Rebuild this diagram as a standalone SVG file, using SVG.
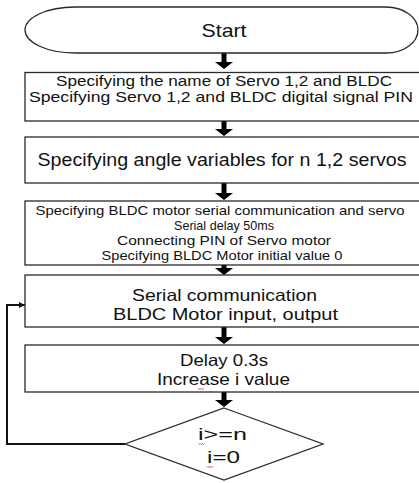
<svg xmlns="http://www.w3.org/2000/svg" width="419" height="483" viewBox="0 0 419 483">
  <style>
    .shape { fill: #ffffff; stroke: #2a2a2a; stroke-width: 1.3; }
    .lbl { font-family: "Liberation Sans", Arial, sans-serif; fill: #111111; text-anchor: middle; }
    .flow { fill: #000000; }
    .loop { fill: none; stroke: #111111; stroke-width: 2; }
    .squig { fill: none; stroke: #e03030; stroke-width: 0.9; }
  </style>
  <defs>
    <marker id="tip" viewBox="0 0 6 6" refX="6" refY="3" markerWidth="6" markerHeight="6" markerUnits="userSpaceOnUse" orient="auto">
      <path d="M0,0 L6,3 L0,6 Z" fill="#111111"/>
    </marker>
  </defs>
  <rect width="419" height="483" fill="#ffffff"/>

  <!-- block arrows between steps -->
  <g id="connectors">
    <path class="flow" d="M221.5,53 H226.5 V62 H233 L224,69 L215,62 H221.5 Z"/>
    <path class="flow" d="M221.5,121 H226.5 V129 H233 L224,136 L215,129 H221.5 Z"/>
    <path class="flow" d="M221.5,183 H226.5 V193 H233 L224,200 L215,193 H221.5 Z"/>
    <path class="flow" d="M221.5,265 H226.5 V268 H233 L224,275 L215,268 H221.5 Z"/>
    <path class="flow" d="M221.5,327 H226.5 V337 H233 L224,344 L215,337 H221.5 Z"/>
    <path class="flow" d="M221.5,392 H226.5 V400 H233 L224,407 L215,400 H221.5 Z"/>
    <!-- loop back from the decision to the serial step -->
    <polyline class="loop" points="125,444 7,444 7,305 25,305" marker-end="url(#tip)"/>
  </g>

  <g id="start">
    <path class="shape" d="M75,7 H386 A32,23 0 0 1 386,53 H75 A50,23 0 0 1 75,7 Z"/>
    <text class="lbl" x="224" y="37" font-size="19" textLength="45" lengthAdjust="spacingAndGlyphs">Start</text>
  </g>

  <g id="names">
    <rect class="shape" x="25" y="72.5" width="398" height="48.5"/>
    <text class="lbl" x="224" y="86" font-size="14" textLength="336" lengthAdjust="spacingAndGlyphs">Specifying the name of Servo 1,2 and BLDC</text>
    <text class="lbl" x="221" y="102" font-size="14" textLength="384" lengthAdjust="spacingAndGlyphs">Specifying Servo 1,2 and BLDC digital signal PIN</text>
  </g>

  <g id="angles">
    <rect class="shape" x="25" y="137" width="398" height="46"/>
    <text class="lbl" x="222" y="166" font-size="17.5" textLength="369" lengthAdjust="spacingAndGlyphs">Specifying angle variables for n 1,2 servos</text>
  </g>

  <g id="setup">
    <rect class="shape" x="25" y="201" width="398" height="64"/>
    <text class="lbl" x="220" y="215" font-size="13" textLength="369" lengthAdjust="spacingAndGlyphs">Specifying BLDC motor serial communication and servo</text>
    <text class="lbl" x="224" y="230" font-size="13" textLength="100" lengthAdjust="spacingAndGlyphs">Serial delay 50ms</text>
    <text class="lbl" x="224" y="245" font-size="13" textLength="214" lengthAdjust="spacingAndGlyphs">Connecting PIN of Servo motor</text>
    <text class="lbl" x="222" y="260" font-size="13" textLength="241" lengthAdjust="spacingAndGlyphs">Specifying BLDC Motor initial value 0</text>
  </g>

  <g id="serial">
    <rect class="shape" x="25" y="275" width="398" height="52"/>
    <text class="lbl" x="224.5" y="301" font-size="16.5" textLength="185" lengthAdjust="spacingAndGlyphs">Serial communication</text>
    <text class="lbl" x="225.5" y="320" font-size="16.5" textLength="225" lengthAdjust="spacingAndGlyphs">BLDC Motor input, output</text>
  </g>

  <g id="delay">
    <rect class="shape" x="25" y="345" width="398" height="47"/>
    <text class="lbl" x="224" y="366" font-size="16.5" textLength="88" lengthAdjust="spacingAndGlyphs">Delay 0.3s</text>
    <text class="lbl" x="223.5" y="385" font-size="16.5" textLength="133" lengthAdjust="spacingAndGlyphs">Increase i value</text>
    <path class="squig" d="M198,388.5 l1,1 l1,-1 l1,1 l1,-1 l1,1 l1,-1"/>
  </g>

  <g id="decision">
    <polygon class="shape" points="224,408 323,444 224,480 125,444"/>
    <text class="lbl" x="222.5" y="440" font-size="17" textLength="49" lengthAdjust="spacingAndGlyphs">i&gt;=n</text>
    <text class="lbl" x="223.5" y="463" font-size="17" textLength="33" lengthAdjust="spacingAndGlyphs">i=0</text>
    <path class="squig" d="M198.5,443.5 l1,1 l1,-1 l1,1 l1,-1 l1,1 l1,-1"/>
    <path class="squig" d="M207,466.5 l1,1 l1,-1 l1,1 l1,-1 l1,1 l1,-1"/>
  </g>
</svg>
